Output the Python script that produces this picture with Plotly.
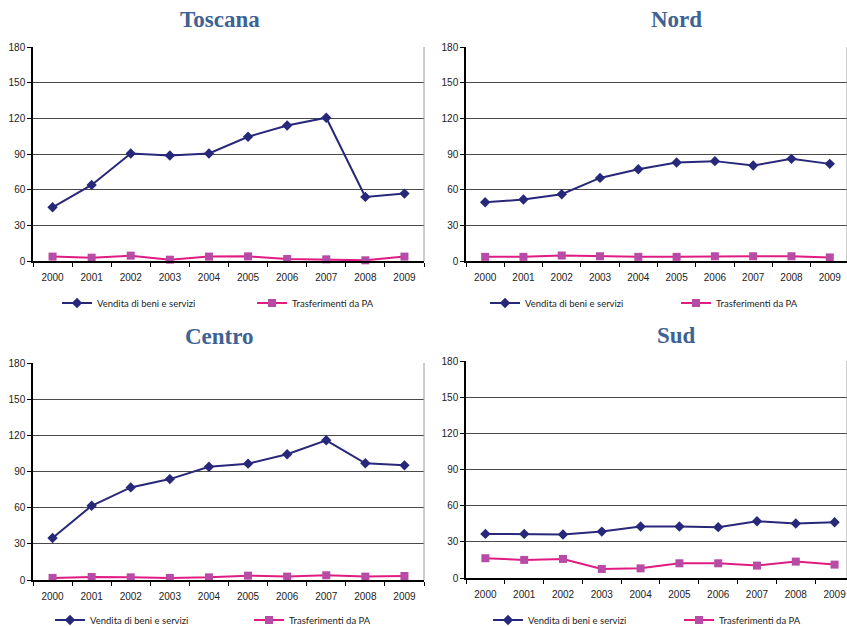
import plotly.graph_objects as go

years = ["2000", "2001", "2002", "2003", "2004", "2005", "2006", "2007", "2008", "2009"]
regions = ["Toscana", "Nord", "Centro", "Sud"]

vendita_toscana = [45.2, 64.0, 90.4, 88.7, 90.4, 104.5, 114.0, 120.5, 53.9, 56.7]
trasf_toscana = [3.7, 2.8, 4.5, 1.1, 3.7, 3.9, 1.7, 1.4, 0.6, 3.7]

vendita_nord = [49.4, 51.7, 56.2, 69.9, 77.2, 82.8, 84.0, 80.3, 85.9, 81.7]
trasf_nord = [3.5, 3.5, 4.6, 4.0, 3.5, 3.5, 4.0, 4.0, 4.0, 3.0]

vendita_centro = [34.9, 61.6, 76.8, 83.7, 94.0, 96.5, 104.3, 115.9, 96.8, 95.1]
trasf_centro = [1.7, 2.5, 2.2, 1.7, 2.2, 3.6, 2.8, 3.9, 2.8, 3.3]

vendita_sud = [36.6, 36.6, 36.1, 38.5, 42.7, 42.7, 42.2, 47.1, 45.2, 46.3]
trasf_sud = [16.4, 15.0, 15.8, 7.5, 8.0, 12.2, 12.2, 10.3, 13.6, 11.1]

series_names = ["Vendita di beni e servizi", "Trasferimenti da PA"]
y_ticks = [0, 30, 60, 90, 120, 150, 180]

W, H = 847, 626
NAVY = "#28287A"
PINK_LINE = "#E01C82"
PINK_MARK = "#B64CA6"
TITLE_BLUE = "#3D6293"
TICK_FONT = dict(family="Liberation Sans, Arial", size=10, color="#222222")
LEGEND_FONT = dict(family="Lato, Liberation Sans", size=9.5, color="#222222")

# panel geometry in pixels: (left, right, top, bottom, x-range end)
panels = {
    "Toscana": (33, 424, 47, 261, 9.5),
    "Nord": (466, 847, 47, 261, 9.45),
    "Centro": (33, 424, 363, 580, 9.5),
    "Sud": (466, 847, 361, 578, 9.32),
}
data = {
    "Toscana": (vendita_toscana, trasf_toscana),
    "Nord": (vendita_nord, trasf_nord),
    "Centro": (vendita_centro, trasf_centro),
    "Sud": (vendita_sud, trasf_sud),
}
title_pos = {"Toscana": (220, 20), "Nord": (676, 20), "Centro": (220, 336), "Sud": (676, 335)}
# legend box left edge, vertical centre (px) and entry width
legend_pos = {
    "Toscana": (57, 303, 150),
    "Nord": (485, 303, 146),
    "Centro": (50, 620, 154),
    "Sud": (488, 620, 146),
}

fig = go.Figure()
layout = dict(
    width=W, height=H,
    margin=dict(l=0, r=0, t=0, b=0, autoexpand=False),
    paper_bgcolor="white", plot_bgcolor="white",
    showlegend=True,
    annotations=[], shapes=[],
)

for i, reg in enumerate(regions, start=1):
    left, right, top, bottom, xend = panels[reg]
    xa = "xaxis" if i == 1 else f"xaxis{i}"
    ya = "yaxis" if i == 1 else f"yaxis{i}"
    xr = "x" if i == 1 else f"x{i}"
    yr = "y" if i == 1 else f"y{i}"
    lg = "legend" if i == 1 else f"legend{i}"

    vend, trasf = data[reg]
    fig.add_trace(go.Scatter(
        x=years, y=vend, name=series_names[0], mode="lines+markers",
        line=dict(color=NAVY, width=2),
        marker=dict(symbol="diamond", size=8, color=NAVY),
        xaxis=xr, yaxis=yr, legend=lg, cliponaxis=False,
    ))
    fig.add_trace(go.Scatter(
        x=years, y=trasf, name=series_names[1], mode="lines+markers",
        line=dict(color=PINK_LINE, width=2),
        marker=dict(symbol="square", size=8, color=PINK_MARK),
        xaxis=xr, yaxis=yr, legend=lg, cliponaxis=False,
    ))

    layout[xa] = dict(
        domain=[left / W, right / W], anchor=yr,
        type="category", range=[-0.5, xend],
        showgrid=False, zeroline=False, automargin=False,
        showline=True, linecolor="black", linewidth=1.5,
        ticks="outside", tickson="boundaries", ticklen=4, tickcolor="black",
        tickfont=TICK_FONT, ticklabelstandoff=6, fixedrange=True,
    )
    layout[ya] = dict(
        domain=[1 - bottom / H, 1 - top / H], anchor=xr,
        range=[0, 180], tickvals=y_ticks,
        showgrid=True, gridcolor="#4A4A4A", gridwidth=1,
        zeroline=False, automargin=False,
        showline=True, linecolor="black", linewidth=1.5,
        ticks="outside", ticklen=4, tickcolor="black",
        tickfont=TICK_FONT, fixedrange=True,
    )
    # light frame on the right edge of the plotting area
    layout["shapes"].append(dict(
        type="line", xref=f"{xr} domain", yref=f"{yr} domain",
        x0=1, x1=1, y0=0, y1=1, line=dict(color="#9A9A9A", width=1),
    ))

    tx, ty = title_pos[reg]
    layout["annotations"].append(dict(
        text=f"<b>{reg}</b>", x=tx / W, y=1 - ty / H, xref="paper", yref="paper",
        xanchor="center", yanchor="middle", showarrow=False,
        font=dict(family="Liberation Serif, Times New Roman, serif", size=23, color=TITLE_BLUE),
    ))

    lx, ly, ew = legend_pos[reg]
    layout[lg] = dict(
        x=lx / W, y=1 - ly / H, xref="container", yref="container",
        xanchor="left", yanchor="middle",
        orientation="h", bgcolor="rgba(0,0,0,0)",
        font=LEGEND_FONT,
        entrywidth=ew, entrywidthmode="pixels", itemwidth=30,
        tracegroupgap=0,
    )

fig.update_layout(**layout)
fig.write_html("out.html")
